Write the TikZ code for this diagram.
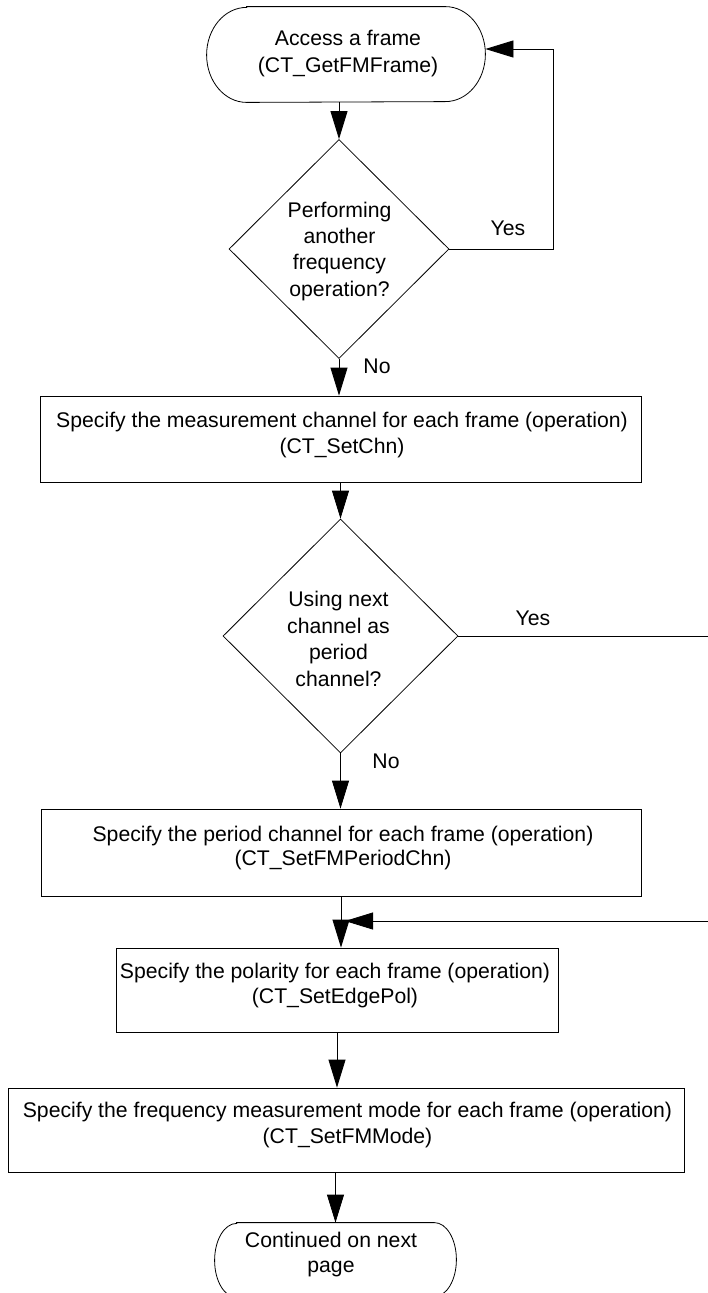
\documentclass[tikz,border=0pt]{standalone}
\usepackage{fontspec}
\setmainfont{Liberation Sans}
\usetikzlibrary{arrows.meta,shapes.geometric}
% strut fixing the top of the first text line 20pt above its baseline
\newcommand{\capstrut}{\rule{0pt}{20pt}}
\begin{document}
\begin{tikzpicture}[x=1pt,y=-1pt,
  line width=0.8pt,
  procbox/.style={draw, rectangle, inner sep=0pt},
  decision/.style={draw, diamond, inner sep=0pt},
  termframe/.style={rectangle, inner sep=0pt},
  txt/.style={font=\fontsize{21.2pt}{#1}\selectfont, align=center, inner sep=0pt, anchor=north},
  txt/.default=26pt,
  lbl/.style={font=\fontsize{21.2pt}{26pt}\selectfont, inner sep=0pt, anchor=base},
  arr/.style={-{Triangle[length=28pt,width=17pt]}}
]
\clip (0,0) rectangle (708,1293);

% ---- start terminal
\node[termframe, minimum width=278pt, minimum height=95pt] (t0) at (346,54.5) {};
\draw ([xshift=40pt]t0.north west) -- ([xshift=-40pt]t0.north east)
  arc[start angle=90, end angle=-90, x radius=40pt, y radius=47.5pt]
  -- ([xshift=40pt]t0.south west)
  arc[start angle=270, end angle=90, x radius=40pt, y radius=47.5pt] -- cycle;
\node[txt=27pt] (t0txt) at (348,25) {\capstrut Access a frame\\(CT\_GetFMFrame)};

% ---- first decision
\node[decision, minimum width=220pt, minimum height=219pt] (d1) at (339,249) {};
\node[txt=26.4pt] (d1txt) at (339.5,196.7) {\capstrut Performing\\another\\frequency\\operation?};

% ---- measurement channel box
\node[procbox, minimum width=601pt, minimum height=86pt] (b1) at (340.5,439) {};
\node[txt=25.4pt] (b1txt) at (342,407.3) {\capstrut Specify the measurement channel for each frame (operation)\\(CT\_SetChn)};

% ---- second decision
\node[decision, minimum width=235pt, minimum height=234pt] (d2) at (340.5,636) {};
\node[txt=26.7pt] (d2txt) at (338.5,586) {\capstrut Using next\\channel as\\period\\channel?};

% ---- period channel box
\node[procbox, minimum width=600pt, minimum height=87pt] (b2) at (341,852.5) {};
\node[txt=24.5pt] (b2txt) at (343,820.7) {\capstrut Specify the period channel for each frame (operation)\\(CT\_SetFMPeriodChn)};

% ---- polarity box
\node[procbox, minimum width=442pt, minimum height=84pt] (b3) at (337,990) {};
\node[txt=25pt] (b3txt) at (335,958.5) {\capstrut Specify the polarity for each frame (operation)\\(CT\_SetEdgePol)};

% ---- measurement mode box
\node[procbox, minimum width=676pt, minimum height=84pt] (b4) at (346,1130) {};
\node[txt=26pt] (b4txt) at (347.5,1097.5) {\capstrut Specify the frequency measurement mode for each frame (operation)\\(CT\_SetFMMode)};

% ---- continuation terminal
\node[termframe, minimum width=241pt, minimum height=74pt] (t1) at (335.5,1260) {};
\draw ([xshift=22pt]t1.north west) -- ([xshift=-22pt]t1.north east)
  arc[start angle=90, end angle=-90, x radius=22pt, y radius=37pt]
  -- ([xshift=22pt]t1.south west)
  arc[start angle=270, end angle=90, x radius=22pt, y radius=37pt] -- cycle;
\node[txt=25pt] (t1txt) at (331,1227) {\capstrut Continued on next\\page};

% ---- branch labels
\node[lbl] (yes1) at (508,235) {Yes};
\node[lbl] (no1) at (377,373) {No};
\node[lbl] (yes2) at (533,625) {Yes};
\node[lbl] (no2) at (386,768) {No};

% ---- connectors
\coordinate (loop1) at (553,49);
\coordinate (join) at (345,921);
\draw[arr] (d1.north |- t0.south) -- (d1.north);
\draw[arr] (d1.east) -| (loop1) -- (t0.east |- loop1);
\draw[arr] (d1.south) -- (d1.south |- b1.north);
\draw[arr] (d2.north |- b1.south) -- (d2.north);
\draw[arr] (d2.south) -- (d2.south |- b2.north);
\draw[arr] (d2.east) -- ++(270,0) |- (join);
\draw[arr] (b2.south) -- (b2.south |- b3.north);
\draw[arr] (b3.south) -- (b3.south |- b4.north);
\draw[arr] (t1.north |- b4.south) -- (t1.north);
\end{tikzpicture}
\end{document}
